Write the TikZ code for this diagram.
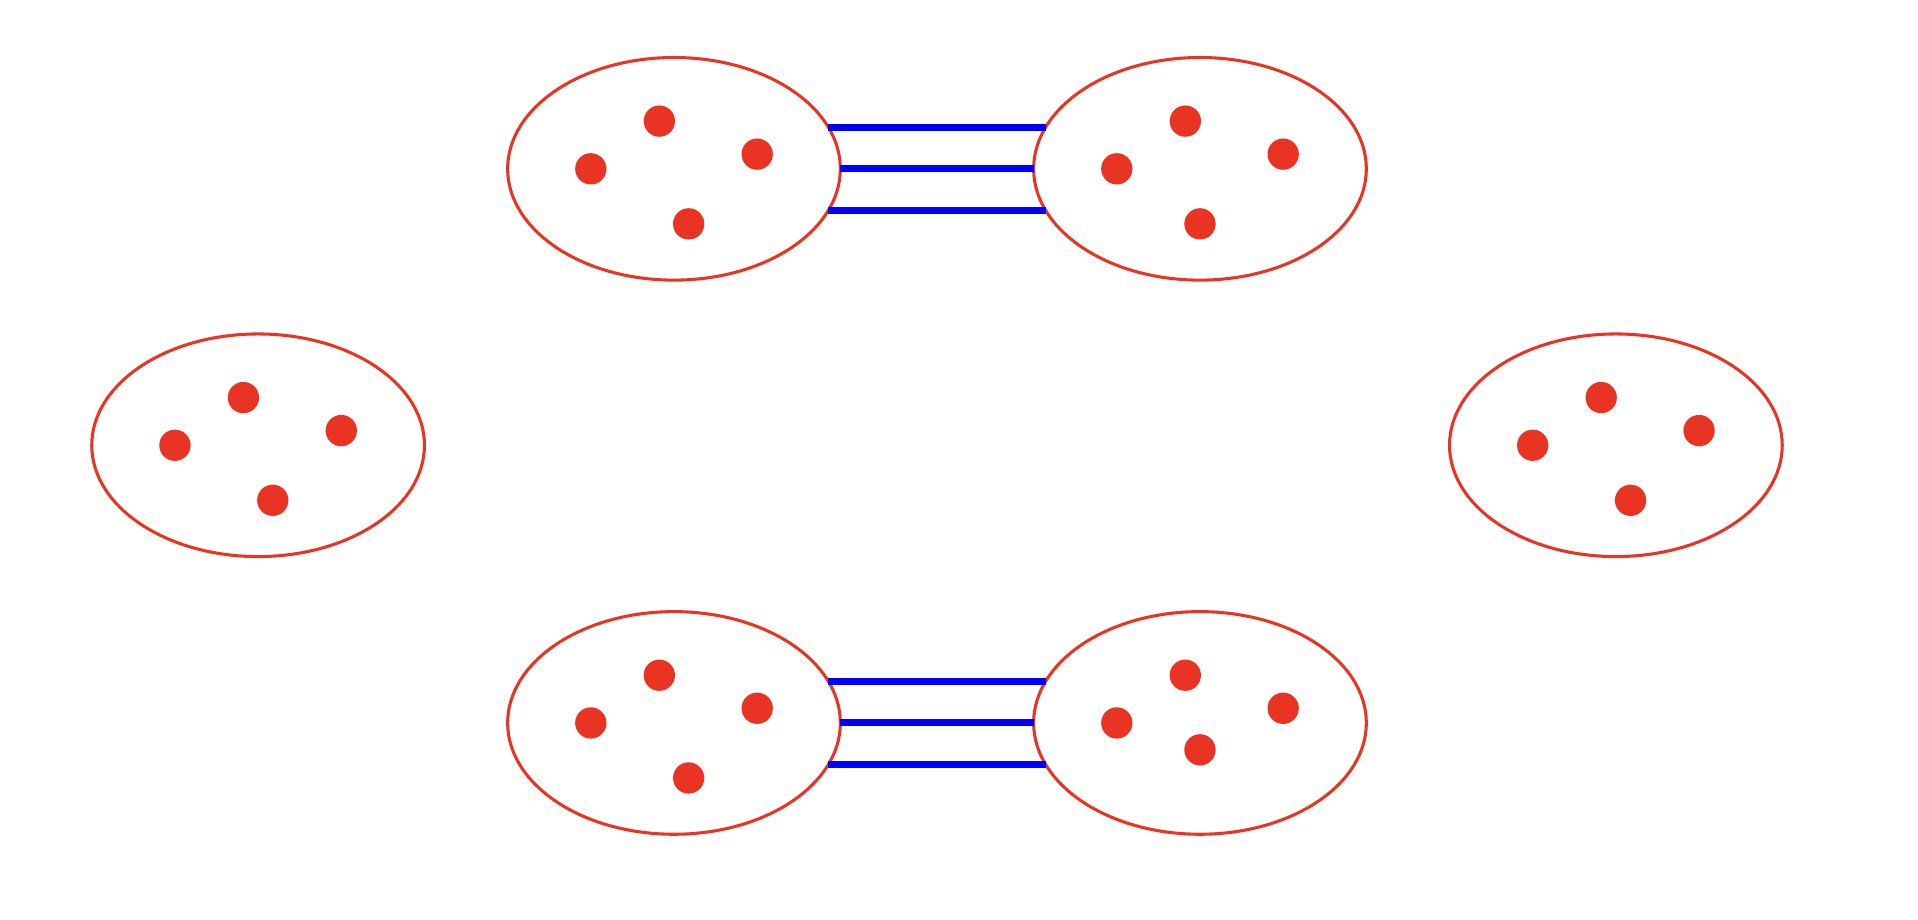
\documentclass[tikz,border=0pt]{standalone}
\usetikzlibrary{shapes.geometric,calc}
\definecolor{setred}{RGB}{233,51,35}
\definecolor{linkblue}{RGB}{0,0,255}
\begin{document}
\begin{tikzpicture}[x=0.5pt,y=-0.5pt,
  setbox/.style={ellipse,draw=setred,line width=1.25pt,minimum width=136pt,minimum height=91pt,inner sep=0pt,outer sep=0pt},
  elem/.style={circle,fill=setred,minimum size=12.8pt,inner sep=0pt,outer sep=0pt},
  link/.style={draw=linkblue,line width=2.9pt}]
\path[use as bounding box] (0,0) rectangle (1568,752);
% sets
\node[setbox] (A) at (551,138) {};
\node[setbox] (B) at (981,138) {};
\node[setbox] (C) at (211,364) {};
\node[setbox] (D) at (1321,364) {};
\node[setbox] (E) at (551,591) {};
\node[setbox] (F) at (981,591) {};
% elements
\node[elem] (a1) at (483,138) {};
\node[elem] (a2) at (539,99) {};
\node[elem] (a3) at (619,126) {};
\node[elem] (a4) at (563,183) {};
\node[elem] (b1) at (913,138) {};
\node[elem] (b2) at (969,99) {};
\node[elem] (b3) at (1049,126) {};
\node[elem] (b4) at (981,183) {};
\node[elem] (c1) at (143,364) {};
\node[elem] (c2) at (199,325) {};
\node[elem] (c3) at (279,352) {};
\node[elem] (c4) at (223,409) {};
\node[elem] (d1) at (1253,364) {};
\node[elem] (d2) at (1309,325) {};
\node[elem] (d3) at (1389,352) {};
\node[elem] (d4) at (1333,409) {};
\node[elem] (e1) at (483,591) {};
\node[elem] (e2) at (539,552) {};
\node[elem] (e3) at (619,579) {};
\node[elem] (e4) at (563,636) {};
\node[elem] (f1) at (913,591) {};
\node[elem] (f2) at (969,552) {};
\node[elem] (f3) at (1049,579) {};
\node[elem] (f4) at (981,613) {};
% links
\draw[link] ($(A.center)+(126.2,-34)$) -- ($(B.center)+(-126.2,-34)$);
\draw[link] (A.east) -- (B.west);
\draw[link] ($(A.center)+(126.2,34)$) -- ($(B.center)+(-126.2,34)$);
\draw[link] ($(E.center)+(126.2,-34)$) -- ($(F.center)+(-126.2,-34)$);
\draw[link] (E.east) -- (F.west);
\draw[link] ($(E.center)+(126.2,34)$) -- ($(F.center)+(-126.2,34)$);
\end{tikzpicture}
\end{document}
